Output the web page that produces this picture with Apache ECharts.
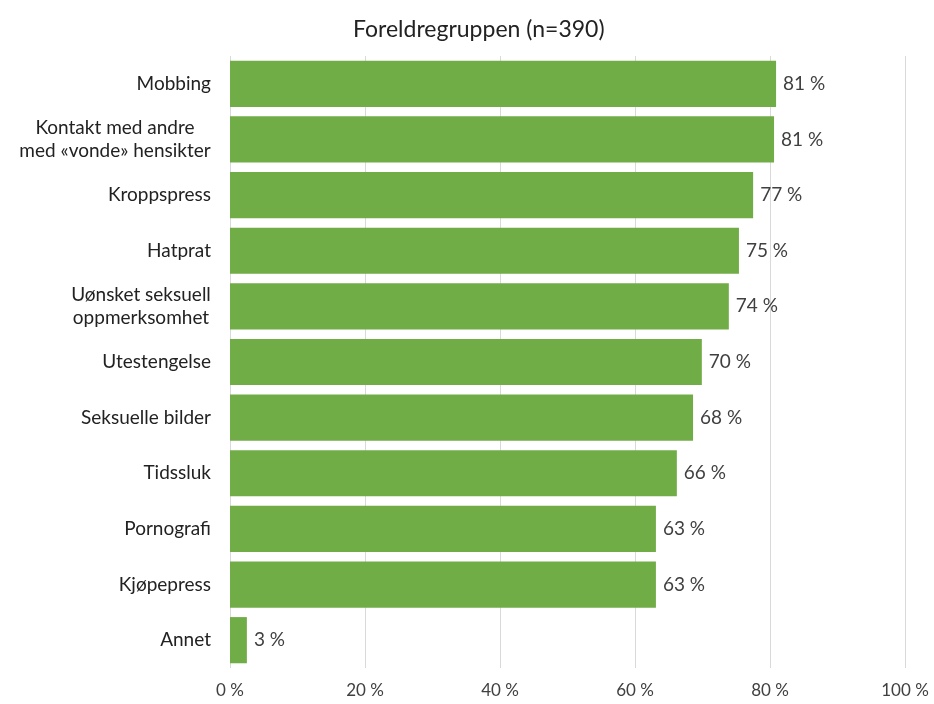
<!DOCTYPE html>
<html>
<head>
<meta charset="utf-8">
<script src="https://cdn.jsdelivr.net/npm/echarts@6/dist/echarts.min.js"></script>
<style>
    html, body { margin: 0; padding: 0; background: #fff; }
    #cn1 { width: 934px; height: 704px; }
</style>
</head>
<body>
<div id="cn1"></div>
<script>
'use strict';

// categories, top to bottom as in the picture
const arrCategory = [
    'Mobbing',
    'Kontakt med andre\nmed «vonde» hensikter',
    'Kroppspress',
    'Hatprat',
    'Uønsket seksuell\noppmerksomhet',
    'Utestengelse',
    'Seksuelle bilder',
    'Tidssluk',
    'Pornografi',
    'Kjøpepress',
    'Annet'
];
// exact bar lengths
const arrValue = [80.9, 80.6, 77.5, 75.4, 73.9, 69.9, 68.6, 66.2, 63.1, 63.1, 2.5];
// printed labels
const arrLabel = [81, 81, 77, 75, 74, 70, 68, 66, 63, 63, 3];

const strFont = 'Lato, "Open Sans", sans-serif';
const numCatSize = 19;

// measure text so multi-line category labels can be centred line by line
const ctx = document.createElement('canvas').getContext('2d');
ctx.font = `${numCatSize}px ${strFont}`;
const hshRich = {};
const arrCatFmt = arrCategory.map((str, i) => {
    const arrLine = str.split('\n');
    if (arrLine.length === 1) return str;
    const w = Math.ceil(Math.max(...arrLine.map(s => ctx.measureText(s).width)));
    hshRich['c' + i] = { width: w, align: 'center', fontFamily: strFont, fontSize: numCatSize, lineHeight: 23, color: '#222' };
    return arrLine.map(s => `{c${i}|${s}}`).join('\n');
});

const echartsBar = echarts.init(document.getElementById('cn1'));

const optionBar = {
    animation: false,
    title: {
        text: 'Foreldregruppen (n=390)',
        left: 348,
        top: 13,
        textStyle: {
            fontFamily: strFont,
            fontSize: 23,
            fontWeight: 'normal',
            color: '#222'
        }
    },
    grid: {
        left: 230,
        right: 29,
        top: 56,
        bottom: 36
    },
    xAxis: {
        type: 'value',
        min: 0,
        max: 100,
        interval: 20,
        axisLine: { show: false },
        axisTick: { show: false },
        splitLine: { lineStyle: { color: '#d9d9d9', width: 1 } },
        axisLabel: {
            formatter: v => v + ' %',
            margin: 14,
            fontFamily: strFont,
            fontSize: 17,
            color: '#404040'
        }
    },
    yAxis: {
        type: 'category',
        inverse: true,
        data: arrCategory,
        axisLine: { show: false },
        axisTick: { show: false },
        axisLabel: {
            margin: 19,
            fontFamily: strFont,
            fontSize: numCatSize,
            lineHeight: 23,
            color: '#222',
            formatter: (v, i) => arrCatFmt[i],
            rich: hshRich
        }
    },
    series: [{
        type: 'bar',
        data: arrValue,
        barCategoryGap: '17%',
        itemStyle: { color: '#70ad47' },
        label: {
            show: true,
            position: 'right',
            distance: 7,
            formatter: p => arrLabel[p.dataIndex] + ' %',
            fontFamily: strFont,
            fontSize: 19,
            color: '#404040'
        }
    }]
};

echartsBar.setOption(optionBar);
</script>
</body>
</html>
